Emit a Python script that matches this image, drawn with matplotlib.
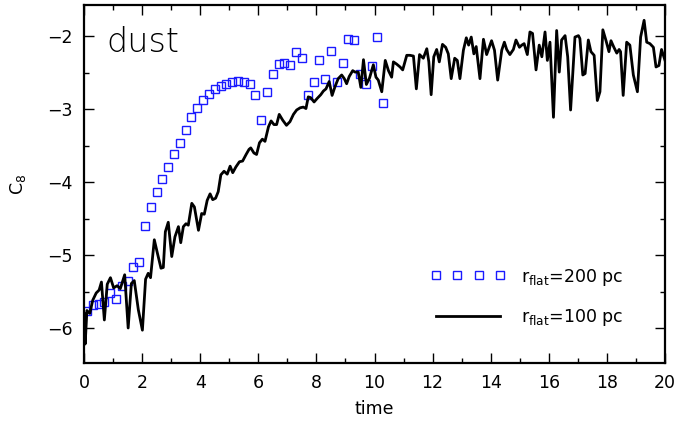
import numpy as np
import matplotlib
matplotlib.use('Agg')
import matplotlib.pyplot as plt
from matplotlib.ticker import MultipleLocator

# r_flat = 200 pc (squares)
sq_time = [0.1, 0.3, 0.5, 0.7, 0.9, 1.1, 1.3, 1.5, 1.7, 1.9,
           2.1, 2.3, 2.5, 2.7, 2.9, 3.1, 3.3, 3.5, 3.7, 3.9,
           4.1, 4.3, 4.5, 4.7, 4.9, 5.1, 5.3, 5.5, 5.7, 5.9,
           6.1, 6.3, 6.5, 6.7, 6.9, 7.1, 7.3, 7.5, 7.7, 7.9,
           8.1, 8.3, 8.5, 8.7, 8.9, 9.1, 9.3, 9.5, 9.7, 9.9,
           10.1, 10.3]
sq_c8 = [-5.77, -5.69, -5.67, -5.64, -5.52, -5.60, -5.43, -5.36, -5.16, -5.10,
         -4.60, -4.34, -4.13, -3.95, -3.79, -3.61, -3.46, -3.29, -3.11, -2.98,
         -2.87, -2.79, -2.72, -2.68, -2.65, -2.62, -2.61, -2.62, -2.66, -2.81,
         -3.15, -2.77, -2.52, -2.38, -2.37, -2.39, -2.22, -2.30, -2.81, -2.62,
         -2.33, -2.58, -2.20, -2.62, -2.37, -2.04, -2.05, -2.52, -2.65, -2.41,
         -2.01, -2.91]

# r_flat = 100 pc (line)
ln_time = [0.00, 0.04, 0.10, 0.20, 0.30, 0.42, 0.52, 0.60, 0.70, 0.80,
           0.91, 1.02, 1.14, 1.25, 1.40, 1.52, 1.63, 1.73, 1.87, 2.01,
           2.12, 2.21, 2.29, 2.42, 2.53, 2.65, 2.73, 2.80, 2.90, 3.02,
           3.13, 3.25, 3.33, 3.42, 3.51, 3.59, 3.71, 3.80, 3.94, 4.05,
           4.14, 4.24, 4.34, 4.43, 4.53, 4.62, 4.71, 4.82, 4.93, 5.03,
           5.12, 5.23, 5.35, 5.46, 5.58, 5.68, 5.74, 5.85, 5.94, 6.04,
           6.14, 6.23, 6.35, 6.44, 6.54, 6.63, 6.72, 6.84, 6.97, 7.09,
           7.21, 7.32, 7.44, 7.55, 7.64, 7.72, 7.80, 7.92, 8.03, 8.15,
           8.24, 8.33, 8.44, 8.54, 8.64, 8.75, 8.87, 8.96, 9.04, 9.13,
           9.25, 9.33, 9.44, 9.53, 9.62, 9.72, 9.83, 9.96, 10.05, 10.13,
           10.25, 10.37, 10.48, 10.59, 10.65, 10.76, 10.88, 10.97, 11.11, 11.22,
           11.34, 11.44, 11.55, 11.68, 11.80, 11.87, 11.95, 12.04, 12.14, 12.23,
           12.34, 12.45, 12.54, 12.64, 12.76, 12.85, 12.94, 13.06, 13.16, 13.24,
           13.33, 13.42, 13.50, 13.63, 13.75, 13.86, 14.03, 14.13, 14.24, 14.38,
           14.47, 14.55, 14.66, 14.78, 14.87, 14.99, 15.07, 15.15, 15.26, 15.35,
           15.44, 15.56, 15.67, 15.76, 15.87, 15.95, 16.04, 16.16, 16.27, 16.36,
           16.44, 16.56, 16.65, 16.75, 16.90, 17.02, 17.07, 17.17, 17.25, 17.36,
           17.45, 17.56, 17.67, 17.76, 17.86, 17.97, 18.07, 18.14, 18.24, 18.34,
           18.42, 18.47, 18.56, 18.68, 18.79, 18.91, 19.05, 19.16, 19.28, 19.37,
           19.48, 19.60, 19.69, 19.79, 19.88, 20.00]
ln_c8 = [-5.80, -6.22, -5.76, -5.80, -5.62, -5.52, -5.48, -5.37, -5.89, -5.40,
         -5.31, -5.45, -5.42, -5.46, -5.27, -6.00, -5.39, -5.35, -5.75, -6.03,
         -5.33, -5.25, -5.31, -4.79, -4.98, -5.18, -5.17, -4.68, -4.55, -5.02,
         -4.75, -4.61, -4.83, -4.61, -4.57, -4.59, -4.29, -4.34, -4.66, -4.43,
         -4.44, -4.25, -4.16, -4.24, -4.22, -4.13, -3.90, -3.85, -3.89, -3.78,
         -3.87, -3.79, -3.72, -3.71, -3.62, -3.55, -3.53, -3.60, -3.62, -3.46,
         -3.41, -3.44, -3.24, -3.16, -3.21, -3.21, -3.07, -3.15, -3.22, -3.17,
         -3.07, -3.01, -2.98, -2.97, -2.99, -2.83, -2.84, -2.90, -2.85, -2.80,
         -2.75, -2.72, -2.62, -2.81, -2.69, -2.58, -2.53, -2.58, -2.65, -2.55,
         -2.47, -2.49, -2.49, -2.70, -2.32, -2.66, -2.57, -2.39, -2.56, -2.60,
         -2.76, -2.33, -2.47, -2.56, -2.35, -2.38, -2.42, -2.46, -2.26, -2.26,
         -2.27, -2.72, -2.25, -2.30, -2.17, -2.35, -2.80, -2.28, -2.18, -2.35,
         -2.11, -2.15, -2.24, -2.58, -2.30, -2.33, -2.58, -2.19, -2.02, -2.12,
         -2.01, -2.24, -2.14, -2.58, -2.04, -2.25, -2.06, -2.19, -2.60, -2.19,
         -2.08, -2.18, -2.25, -2.18, -2.05, -2.15, -2.12, -2.10, -2.25, -1.94,
         -1.96, -2.46, -2.12, -2.28, -1.94, -2.33, -2.08, -3.11, -1.92, -2.49,
         -2.05, -1.99, -2.28, -3.01, -2.01, -1.99, -2.03, -2.53, -2.51, -2.05,
         -2.21, -2.26, -2.88, -2.76, -1.91, -2.06, -2.21, -2.06, -2.15, -2.23,
         -2.18, -2.21, -2.81, -2.08, -2.12, -2.53, -2.76, -2.01, -1.78, -2.08,
         -2.10, -2.15, -2.42, -2.40, -2.18, -2.33]

plt.rcParams['font.family'] = 'DejaVu Sans'
plt.rcParams['mathtext.fontset'] = 'dejavusans'

fig = plt.figure(figsize=(6.92, 4.24), dpi=100)
ax = fig.add_axes([0.1214, 0.1439, 0.8396, 0.8443])

ax.plot(sq_time, sq_c8, linestyle='none', marker='s', markersize=5.5,
        markerfacecolor='none', markeredgecolor='#1a1aff', markeredgewidth=1.0,
        label=r'r$_{\mathrm{flat}}$=200 pc')
ax.plot(ln_time, ln_c8, color='black', linewidth=2.0,
        label=r'r$_{\mathrm{flat}}$=100 pc')

ax.set_xlim(0, 20)
ax.set_ylim(-6.48, -1.57)
ax.xaxis.set_major_locator(MultipleLocator(2))
ax.xaxis.set_minor_locator(MultipleLocator(1))
ax.yaxis.set_major_locator(MultipleLocator(1))
ax.yaxis.set_minor_locator(MultipleLocator(0.5))
ax.tick_params(which='both', direction='in', top=True, right=True,
               labelsize=12.5, width=1.0)
ax.tick_params(which='major', length=7, pad=8)
ax.tick_params(which='minor', length=3.5)
for sp in ax.spines.values():
    sp.set_linewidth(1.6)

ax.set_xlabel('time', fontsize=12.5, labelpad=6)
ax.set_ylabel(r'C$_8$', fontsize=12.5, labelpad=14)

ax.text(0.038, 0.94, 'dust', transform=ax.transAxes, fontsize=24,
        fontweight='light', va='top', ha='left')

ax.legend(loc='lower right', bbox_to_anchor=(0.955, 0.055), frameon=False,
          fontsize=12.5, numpoints=4, handlelength=4.3, handletextpad=0.9,
          labelspacing=1.1)

fig.savefig('out.png', dpi=100)
